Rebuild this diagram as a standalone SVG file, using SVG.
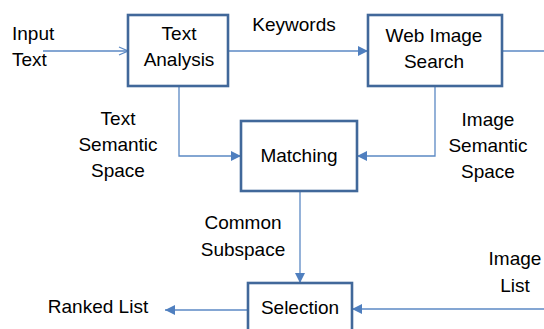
<svg xmlns="http://www.w3.org/2000/svg" width="544" height="329" viewBox="0 0 544 329">
  <style>
    .box { fill: #ffffff; stroke: #41689a; stroke-width: 2.6; }
    .wire { fill: none; stroke: #5b89c4; stroke-width: 1.3; }
    text { font-family: "Liberation Sans", Arial, sans-serif; font-size: 19px; fill: #000000; text-anchor: middle; }
    text.left { text-anchor: start; }
  </style>
  <defs>
    <marker id="tri" viewBox="0 0 10 10" refX="10" refY="5" markerWidth="10" markerHeight="10" markerUnits="userSpaceOnUse" orient="auto">
      <path d="M0,0 L10,5 L0,10 Z" fill="#4f7fbf"/>
    </marker>
    <marker id="vee" viewBox="0 0 10 10" refX="10" refY="5" markerWidth="10" markerHeight="10" markerUnits="userSpaceOnUse" orient="auto">
      <path d="M1,1 L10,5 L1,9" fill="none" stroke="#5b89c4" stroke-width="1.3"/>
    </marker>
  </defs>

  <g id="connectors">
    <path class="wire" d="M43,51 H128" marker-end="url(#vee)"/>
    <path class="wire" d="M228,51 H368" marker-end="url(#tri)"/>
    <path class="wire" d="M502,51 H544"/>
    <path class="wire" d="M179,86 V156 H241" marker-end="url(#tri)"/>
    <path class="wire" d="M435,86 V156 H357" marker-end="url(#tri)"/>
    <path class="wire" d="M300,191 V283" marker-end="url(#tri)"/>
    <path class="wire" d="M544,309 H352" marker-end="url(#tri)"/>
    <path class="wire" d="M248,310 H165" marker-end="url(#tri)"/>
  </g>

  <g id="input-label">
    <text class="left" x="12" y="40">Input</text>
    <text class="left" x="12" y="66">Text</text>
  </g>

  <g id="text-analysis">
    <rect class="box" x="128" y="15" width="100" height="71"/>
    <text x="179" y="40">Text</text>
    <text x="179" y="66">Analysis</text>
  </g>

  <g id="keywords-label">
    <text x="294" y="31">Keywords</text>
  </g>

  <g id="web-image-search">
    <rect class="box" x="368" y="15" width="134" height="71"/>
    <text x="434" y="42">Web Image</text>
    <text x="434" y="68">Search</text>
  </g>

  <g id="text-space-label">
    <text x="118" y="125">Text</text>
    <text x="118" y="151">Semantic</text>
    <text x="118" y="177">Space</text>
  </g>

  <g id="image-space-label">
    <text x="488" y="126">Image</text>
    <text x="488" y="152">Semantic</text>
    <text x="488" y="178">Space</text>
  </g>

  <g id="matching">
    <rect class="box" x="241" y="121" width="116" height="70"/>
    <text x="299" y="162">Matching</text>
  </g>

  <g id="common-label">
    <text x="243" y="229">Common</text>
    <text x="243" y="256">Subspace</text>
  </g>

  <g id="image-list-label">
    <text x="515" y="265">Image</text>
    <text x="515" y="292">List</text>
  </g>

  <g id="selection">
    <rect class="box" x="248" y="283" width="104" height="60"/>
    <text x="300" y="314">Selection</text>
  </g>

  <g id="ranked-label">
    <text x="98" y="313">Ranked List</text>
  </g>
</svg>
